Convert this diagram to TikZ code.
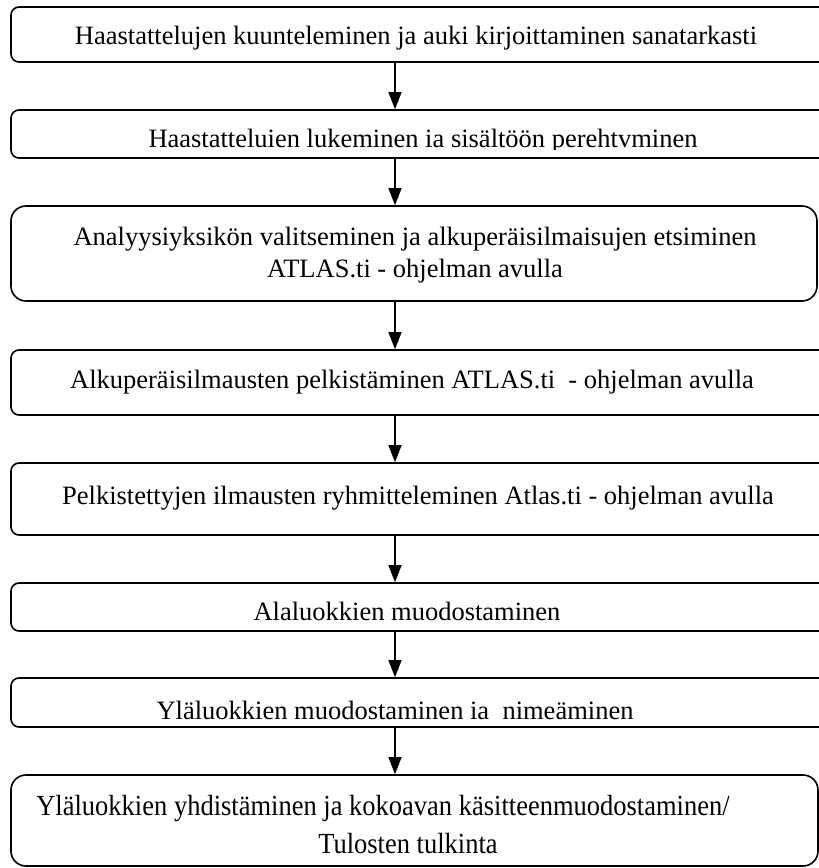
\documentclass[tikz,border=0pt]{standalone}
\usepackage{fontspec}
\setmainfont{Liberation Serif}
\usetikzlibrary{arrows.meta}
\tikzset{
  box/.style={draw, line width=1.6pt, rounded corners=8pt, inner sep=0pt},
  bigbox/.style={box, rounded corners=15pt},
  txt/.style={anchor=base, inner sep=0pt, font=\fontsize{26.5}{29}\selectfont},
  flow/.style={line width=1.3pt, -{Triangle[width=13pt,length=17pt]}}
}
\begin{document}
\begin{tikzpicture}[x=1pt,y=-1pt]
\path[use as bounding box] (0,0) rectangle (819,868);
\clip (0,0) rectangle (819,868);
% boxes
\node[box, minimum width=819pt, minimum height=55pt] (b1) at (420.5,34.5) {};
\node[box, minimum width=819pt, minimum height=48pt] (b2) at (420.5,134) {};
\node[bigbox, minimum width=806pt, minimum height=95pt] (b3) at (414,253.5) {};
\node[box, minimum width=819pt, minimum height=65pt] (b4) at (420.5,382.5) {};
\node[box, minimum width=819pt, minimum height=72pt] (b5) at (420.5,499) {};
\node[box, minimum width=819pt, minimum height=48pt] (b6) at (420.5,607) {};
\node[box, minimum width=819pt, minimum height=49pt] (b7) at (420.5,702.5) {};
\node[bigbox, minimum width=807pt, minimum height=91pt] (b8) at (414.5,820.5) {};
% texts
\node[txt] (t1) at (416,44) {Haastattelujen kuunteleminen ja auki kirjoittaminen sanatarkasti};
\begin{scope}
\clip (0,110) rectangle (819,149);
\node[txt] (t2) at (423,147) {Haastatteluien lukeminen ia sisältöön perehtvminen};
\end{scope}
\node[txt] (t3a) at (415,245) {Analyysiyksikön valitseminen ja alkuperäisilmaisujen etsiminen};
\node[txt] (t3b) at (415,277) {ATLAS.ti - ohjelman avulla};
\node[txt] (t4) at (412,388) {Alkuperäisilmausten pelkistäminen ATLAS.ti\ \ - ohjelman avulla};
\node[txt] (t5) at (418,504) {Pelkistettyjen ilmausten ryhmitteleminen Atlas.ti - ohjelman avulla};
\node[txt] (t6) at (407,620) {Alaluokkien muodostaminen};
\begin{scope}
\clip (0,680) rectangle (819,721);
\node[txt] (t7) at (395,719) {Yläluokkien muodostaminen ia\ \ nimeäminen};
\end{scope}
\node[txt] (t8a) at (383,815) {\scalebox{1.0}[1.1]{Yläluokkien yhdistäminen ja kokoavan käsitteenmuodostaminen/}};
\node[txt] (t8b) at (408,853) {\scalebox{1.0}[1.1]{Tulosten tulkinta}};
% arrows
\draw[flow] (b1.south -| 395,0) -- (b2.north -| 395,0);
\draw[flow] (b2.south -| 395,0) -- (b3.north -| 395,0);
\draw[flow] (b3.south -| 395,0) -- (b4.north -| 395,0);
\draw[flow] (b4.south -| 395,0) -- (b5.north -| 395,0);
\draw[flow] (b5.south -| 395,0) -- (b6.north -| 395,0);
\draw[flow] (b6.south -| 395,0) -- (b7.north -| 395,0);
\draw[flow] (b7.south -| 395,0) -- (b8.north -| 395,0);
\end{tikzpicture}
\end{document}
